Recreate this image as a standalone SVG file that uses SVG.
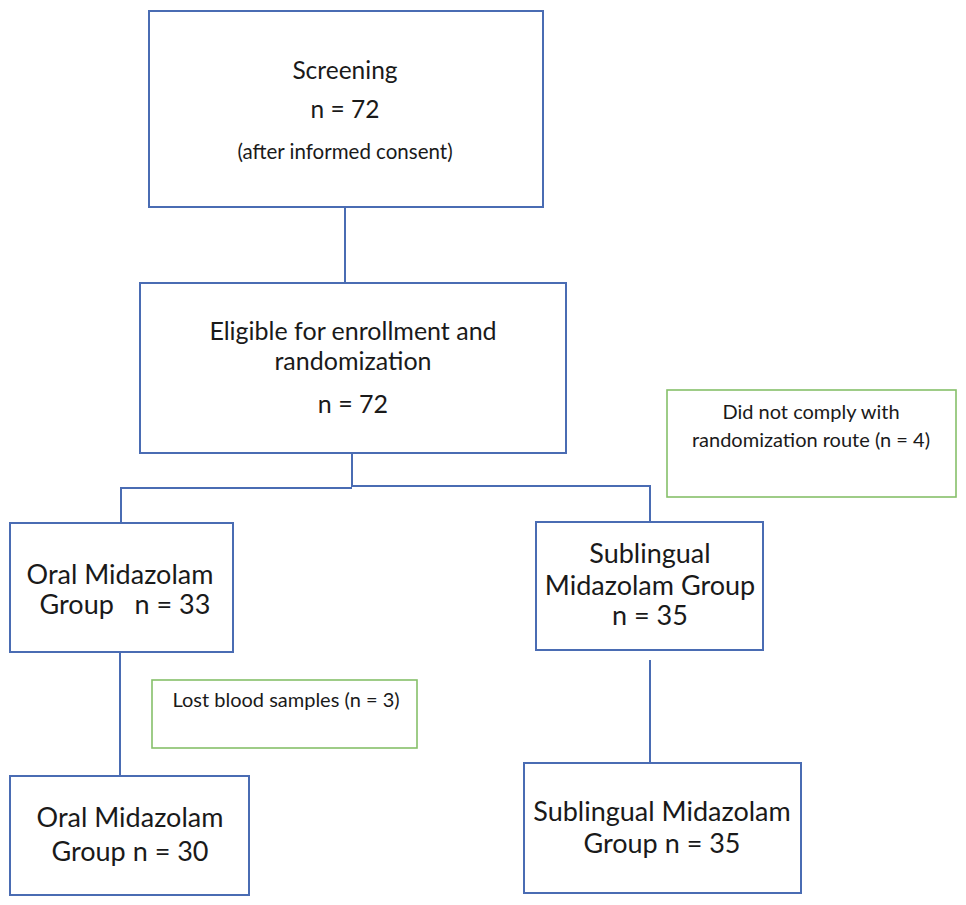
<svg xmlns="http://www.w3.org/2000/svg" width="966" height="905" viewBox="0 0 966 905">
<style>
.b{fill:#fff;stroke:#4a6cb3;stroke-width:2}
.g{fill:#fff;stroke:#86c06a;stroke-width:1.6}
.c{fill:none;stroke:#4a6cb3;stroke-width:2}
text{font-family:Lato,"Open Sans","Liberation Sans",sans-serif;fill:#1a1a1a;text-anchor:middle}
.s1{font-size:24.5px}
.s2{font-size:25px}
.s3{font-size:27px}
.m{font-size:20.5px}
.s{font-size:20px}
</style>
<rect width="966" height="905" fill="#fff"/>
<g id="connectors">
<path class="c" d="M345 207V283"/>
<path class="c" d="M352 453V487M121 522V488H352M352 486H650V522"/>
<path class="c" d="M120 652V776"/>
<path class="c" d="M650 660V763"/>
</g>
<g id="screening">
<rect class="b" x="149" y="11" width="394" height="196"/>
<text class="s1" x="345" y="79">Screening</text>
<text class="s1" x="345" y="118">n = 72</text>
<text class="m" x="345" y="159">(after informed consent)</text>
</g>
<g id="eligible">
<rect class="b" x="140" y="283" width="426" height="170"/>
<text class="s2" x="353" y="340">Eligible for enrollment and</text>
<text class="s2" x="353" y="370">randomization</text>
<text class="s2" x="353" y="413">n = 72</text>
</g>
<g id="excluded">
<rect class="g" x="667" y="390" width="289" height="107"/>
<text class="s" x="811" y="419">Did not comply with</text>
<text class="s" x="811" y="447">randomization route (n = 4)</text>
</g>
<g id="oral1">
<rect class="b" x="10" y="523" width="223" height="129"/>
<text class="s3" x="120" y="584">Oral Midazolam</text>
<text class="s3" x="125" y="614" xml:space="preserve">Group   n = 33</text>
</g>
<g id="sub1">
<rect class="b" x="536" y="522" width="227" height="128"/>
<text class="s3" x="650" y="563">Sublingual</text>
<text class="s3" x="650" y="595">Midazolam Group</text>
<text class="s3" x="650" y="625">n = 35</text>
</g>
<g id="lost">
<rect class="g" x="152" y="680" width="265" height="68"/>
<text class="s" x="286" y="707">Lost blood samples (n = 3)</text>
</g>
<g id="oral2">
<rect class="b" x="10" y="776" width="239" height="119"/>
<text class="s3" x="130" y="827">Oral Midazolam</text>
<text class="s3" x="130" y="861">Group n = 30</text>
</g>
<g id="sub2">
<rect class="b" x="524" y="763" width="277" height="130"/>
<text class="s3" x="662" y="821">Sublingual Midazolam</text>
<text class="s3" x="662" y="853">Group n = 35</text>
</g>
</svg>
